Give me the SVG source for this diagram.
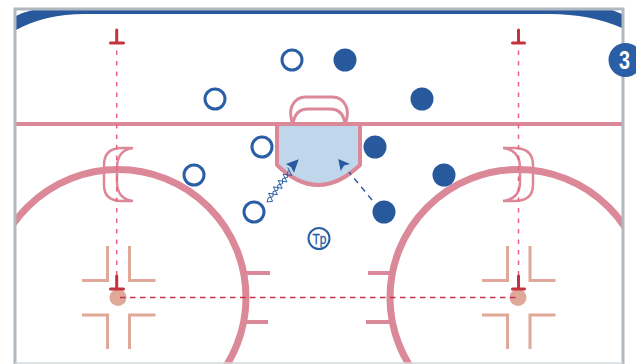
<svg xmlns="http://www.w3.org/2000/svg" width="636" height="364" viewBox="0 0 636 364">
<style>
.rink{fill:none;stroke:#db8899}
.hash{fill:none;stroke:#e0a898;stroke-width:3}
.t{fill:none;stroke:#c5323c;stroke-width:3;stroke-linecap:round}
.guide{fill:none;stroke:#e8637a;stroke-width:1.5;stroke-dasharray:4.500 6}
.hollow{fill:#fff;stroke:#2a5fa5;stroke-width:3}
.solid{fill:#27599c}
.head{fill:#27599c}
.wave{fill:none;stroke:#2a5fa5;stroke-width:1;stroke-linejoin:round}
</style>
<defs><clipPath id="rink"><rect x="16" y="10" width="606" height="354"/></clipPath></defs>
<rect width="636" height="364" fill="#fff"/>
<g id="rink-markings" clip-path="url(#rink)">
<path d="M16 16Q24 12 33 10H612L622 14V28Q590 14 550 14H85Q45 14 16 30Z" fill="#27599c"/>
<path class="rink" stroke-width="4" d="M16 124H622"/>
<g id="left-circle">
<circle class="rink" stroke-width="7" cx="118" cy="297.500" r="128"/>
<path class="rink" stroke-width="4" d="M246 273H270M246 322H268"/>
<path class="rink" stroke-width="2.500" d="M133 148H122Q104 148 104 165V185Q104 201 122 201H133M133 148Q117 150 117 168V182Q117 199 133 201"/>
<path class="hash" d="M107.500 246V280.500H82M129.500 246V280.500H155.500M107.500 349V315H82M129.500 349V315H155.500"/>
<circle cx="118" cy="297.500" r="8.500" fill="#e0a898"/>
</g>
<g id="right-circle">
<circle class="rink" stroke-width="7" cx="518" cy="297.500" r="128"/>
<path class="rink" stroke-width="4" d="M390 273H368M390 322H366"/>
<path class="rink" stroke-width="2.500" d="M503 148H514Q533 148 533 165V185Q533 201 514 201H503M503 148Q520 150 520 168V182Q520 199 503 201"/>
<path class="hash" d="M507.500 246V280.500H482M530 246V280.500H555.500M507.500 349V315H482M530 349V315H555.500"/>
<circle cx="518" cy="297.500" r="8.500" fill="#e0a898"/>
</g>
<g id="goal">
<path class="rink" stroke-width="3" d="M292.500 124Q289 112 292 106Q296 97 306 97H332Q342 97 346 106Q349 112 345.500 124M293 124Q295 109 308 109H330Q343 109 345 124"/>
<path d="M277 124V165Q318 205 360 165V124Z" fill="#c0d6ea" stroke="#db8899" stroke-width="4"/>
</g>
</g>
<g id="frame"><path d="M15 364V9H623V364" fill="none" stroke="#b0b8c0" stroke-width="3"/><path d="M15 363H623" stroke="#d5d8da" stroke-width="1.500"/></g>
<g id="connectors">
<path class="guide" d="M116.700 50.500V275"/>
<path class="guide" d="M518.500 50.500V275"/>
<path d="M120 297.500H518" fill="none" stroke="#c5324a" stroke-width="1.300" stroke-dasharray="5.500 4.500"/>
<path class="wave" d="M267 202l5.600-.8-4-8 8.800 1.600-4-8 8.800 1.600-4-8 8.800 1.600-4-8 8.800 1.600-4-8"/>
<path class="wave" d="M267 202l1.200-4.100 4.800-1.400 0-5 4.800-1.400 0-5 4.800-1.400 0-5 4.800-1.400 0-5 2 -2"/>
<polygon class="head" points="298.700,159.300 286,164 291,167 294,172.700"/>
<path d="M372 200L349 172" fill="none" stroke="#27599c" stroke-width="1.500" stroke-dasharray="6 5"/>
<polygon class="head" points="338.300,159 350,164 344,165.500 340.700,171"/>
</g>
<g id="t-marks">
<path class="t" d="M116.700 30V43M110.500 43H123.500"/>
<path class="t" d="M518.500 30V43M512.500 43H524.500"/>
<path class="t" d="M116.700 276V289M110.500 289H123.500"/>
<path class="t" d="M518.500 276V289M512.500 289H524.500"/>
</g>
<g id="o1"><circle class="hollow" cx="292" cy="60" r="10"/></g>
<g id="o2"><circle class="hollow" cx="215" cy="99" r="10"/></g>
<g id="o3"><circle class="hollow" cx="262" cy="147" r="10"/></g>
<g id="o4"><circle class="hollow" cx="194" cy="175" r="10"/></g>
<g id="o5"><circle class="hollow" cx="254" cy="212" r="10"/></g>
<g id="x1"><circle class="solid" cx="345" cy="60" r="11.500"/></g>
<g id="x2"><circle class="solid" cx="422" cy="99" r="11.500"/></g>
<g id="x3"><circle class="solid" cx="375" cy="147" r="11.500"/></g>
<g id="x4"><circle class="solid" cx="444" cy="175" r="11.500"/></g>
<g id="x5"><circle class="solid" cx="384" cy="212" r="11.500"/></g>
<g id="tp"><circle cx="319" cy="238.500" r="10.500" fill="#fff" stroke="#2a5fa5" stroke-width="2"/><text x="312.500" y="243.500" font-family="'Liberation Sans',Arial,sans-serif" font-size="14.500" fill="#2a5fa5" stroke="#2a5fa5" stroke-width="0.300" textLength="14" lengthAdjust="spacingAndGlyphs">Tp</text></g>
<g id="badge"><circle cx="625.500" cy="60" r="17" fill="#2a5fa5"/><text x="619" y="69" font-family="'Liberation Sans',Arial,sans-serif" font-size="26" font-weight="bold" fill="#fff" textLength="11" lengthAdjust="spacingAndGlyphs">3</text></g>
</svg>
